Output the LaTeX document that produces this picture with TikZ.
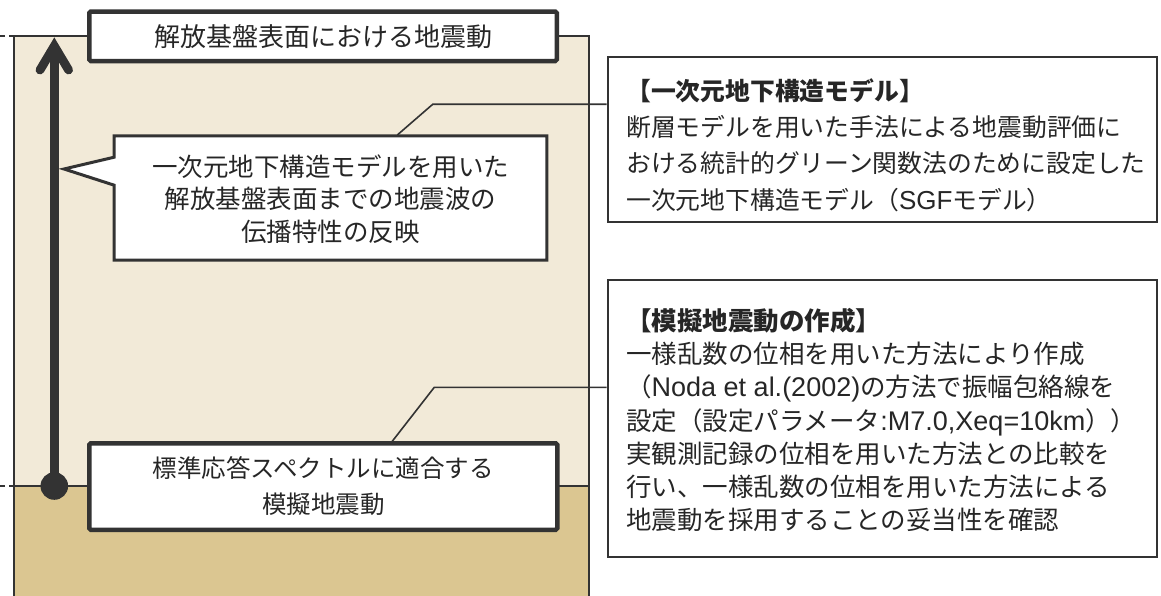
\documentclass[tikz,border=0pt]{standalone}
\usepackage{fontspec}
\newfontfamily\jp{Noto Sans CJK JP}
\newfontfamily\lat{Liberation Sans}
\definecolor{beigeL}{RGB}{242,234,216}
\definecolor{beigeD}{RGB}{219,198,145}
\definecolor{dark}{RGB}{51,51,51}
\definecolor{ink}{RGB}{38,38,38}
\newcommand{\LatA}[1]{{\lat\fontsize{26}{26}\selectfont #1}}
\newcommand{\LatB}[1]{{\lat\fontsize{27}{27}\selectfont #1}}
\tikzset{
  frame/.style={draw=dark, line width=1.8pt},
  dashline/.style={draw=dark, line width=2pt, dash pattern=on 5pt off 4pt},
  leader/.style={draw=dark, line width=1.6pt},
  thickbox/.style={draw=dark, fill=white, line width=4.5pt, rounded corners=1.5pt, inner sep=0pt, align=center, text=ink},
  infobox/.style={draw=dark, fill=white, line width=2pt, inner sep=0pt},
  infotext/.style={anchor=west, align=left, inner sep=0pt, text=ink},
  callout/.style={draw=dark, fill=white, line width=3pt, miter limit=20},
}
\begin{document}
\begin{tikzpicture}[x=1pt,y=-1pt]
\useasboundingbox (0,0) rectangle (1161,596);
% ground layers
\fill[beigeL] (14,36) rectangle (589,486);
\fill[beigeD] (14,486) rectangle (589,596);
\draw[frame] (14,596) -- (14,36) -- (589,36) -- (589,596);
\draw[frame] (14,486) -- (589,486);
\draw[dashline] (14,36) -- (0,36);
\draw[dashline] (14,486) -- (0,486);
% info boxes
\node[infobox, minimum width=549.6pt, minimum height=164.7pt] (box1) at (882.5,139.3) {};
\node[infobox, minimum width=549.6pt, minimum height=276.7pt] (box2) at (882.5,418.3) {};
% leaders
\coordinate (c1) at (397.3,135);
\coordinate (k1) at (432.7,104.3);
\coordinate (c2) at (391.7,442);
\coordinate (k2) at (434.3,387.3);
\draw[leader] (c1) -- (k1) -- (k1 -| box1.west);
\draw[leader] (c2) -- (k2) -- (k2 -| box2.west);
% arrow
\node[circle, fill=dark, minimum size=27.6pt, inner sep=0pt] (dot) at (54.3,486) {};
\coordinate (tip) at (54.3,46);
\draw[draw=dark, line width=8.8pt] (dot.center) -- (tip);
\draw[draw=dark, line width=8.8pt, line cap=round, miter limit=20] (40,70) -- (tip) -- (68.6,70);
% top and bottom boxes
\node[thickbox, minimum width=467.5pt, minimum height=49.5pt, font=\jp\fontsize{26}{36}\selectfont] (topbox) at (323,36.3) {\raisebox{-2.5pt}{解放基盤表面における地震動}};
\node[thickbox, minimum width=468pt, minimum height=86.5pt, font=\jp\fontsize{24.5}{36}\selectfont] (botbox) at (323.3,486.5) {\raisebox{-1pt}{標準応答スペクトルに適合する}\\\raisebox{-1pt}{模擬地震動}};
% callout
\coordinate (p1) at (114.2,135.8);
\coordinate (p2) at (546.8,135.8);
\coordinate (p3) at (546.8,260.2);
\coordinate (p4) at (114.2,260.2);
\coordinate (p5) at (114.2,185.2);
\coordinate (ptip) at (64,169);
\coordinate (p6) at (114.2,157.2);
\draw[callout] (p1) -- (p2) -- (p3) -- (p4) -- (p5) -- (ptip) -- (p6) -- cycle;
\node[align=center, inner sep=0pt, text=ink, font=\jp\fontsize{25.5}{32.5}\selectfont] (calltext) at (330.5,199) {一次元地下構造モデルを用いた\\解放基盤表面までの地震波の\\伝播特性の反映};
% info texts
\node[infotext, font=\jp\fontsize{24.8}{36.3}\selectfont] (t1) at (626,145) {{\bfseries 【一次元地下構造モデル】}\\断層モデルを用いた手法による地震動評価に\\おける統計的グリーン関数法のために設定した\\一次元地下構造モデル（\LatA{SGF}モデル）};
\node[infotext, font=\jp\fontsize{25.5}{33.3}\selectfont] (t2) at (626,420) {{\bfseries 【模擬地震動の作成】}\\一様乱数の位相を用いた方法により作成\\（\LatB{Noda et al.(2002)}の方法で振幅包絡線を\\設定（設定パラメータ\LatB{:M7.0,Xeq=10km}））\\実観測記録の位相を用いた方法との比較を\\行い、一様乱数の位相を用いた方法による\\地震動を採用することの妥当性を確認};
\end{tikzpicture}
\end{document}
